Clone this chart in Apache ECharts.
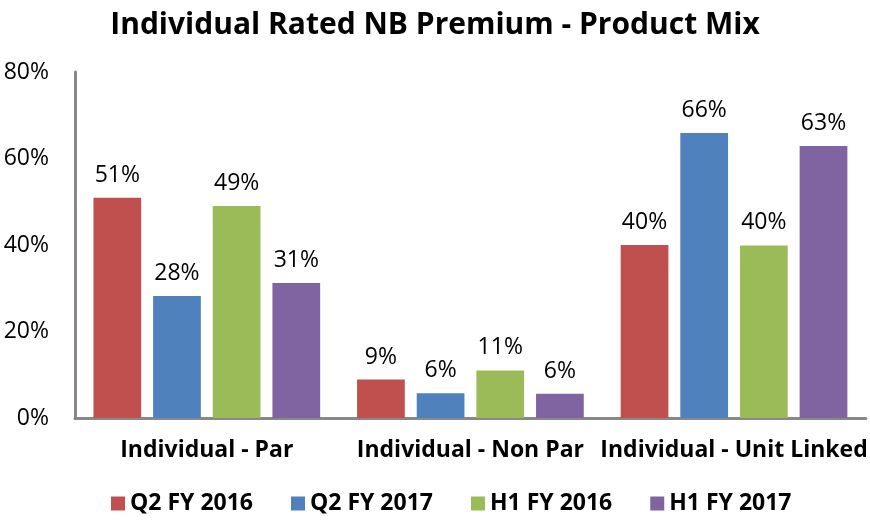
<!DOCTYPE html>
<html>
<head>
<meta charset="utf-8">
<script src="https://cdn.jsdelivr.net/npm/echarts@6/dist/echarts.min.js"></script>
<style>
  html, body { margin: 0; padding: 0; background: #fff; }
  #main { width: 870px; height: 523px; }
</style>
</head>
<body>
<div id="main"></div>
<script>
  // data (percent)
  var categories = ['Individual - Par', 'Individual - Non Par', 'Individual - Unit Linked'];
  var seriesNames = ['Q2 FY 2016', 'Q2 FY 2017', 'H1 FY 2016', 'H1 FY 2017'];
  var q2fy16 = [50.9, 8.9, 40.0];
  var q2fy17 = [28.2, 5.7, 65.9];
  var h1fy16 = [49.0, 11.0, 39.9];
  var h1fy17 = [31.2, 5.6, 62.9];
  var yTicks = [0, 20, 40, 60, 80];

  var colors = ['#c0504d', '#4f81bd', '#9bbb59', '#8064a2'];
  var font = 'Open Sans';

  var myEchart = echarts.init(document.getElementById('main'));

  function makeSeries(name, data) {
    return {
      name: name,
      type: 'bar',
      barGap: '25%',
      barCategoryGap: '14%',
      data: data,
      label: {
        show: true,
        position: 'top',
        distance: 11,
        color: '#000',
        fontFamily: font,
        fontSize: 23,
        formatter: function (p) { return Math.round(p.value) + '%'; }
      }
    };
  }

  myEchart.setOption({
    color: colors,
    animation: false,
    title: {
      text: 'Individual Rated NB Premium - Product Mix',
      left: 'center',
      top: 5,
      textStyle: {
        color: '#000',
        fontFamily: font,
        fontWeight: 'bold',
        fontSize: 30
      }
    },
    legend: {
      data: seriesNames,
      bottom: 3,
      left: 106,
      itemWidth: 14,
      itemHeight: 14,
      itemGap: 38,
      icon: 'rect',
      textStyle: {
        color: '#000',
        fontFamily: font,
        fontWeight: 'bold',
        fontSize: 23
      }
    },
    grid: {
      left: 75,
      right: 0,
      top: 72,
      bottom: 105
    },
    xAxis: {
      type: 'category',
      data: categories,
      axisTick: { show: false },
      axisLine: {
        lineStyle: { color: '#888', width: 3 }
      },
      axisLabel: {
        interval: 0,
        color: '#000',
        fontFamily: font,
        fontWeight: 'bold',
        fontSize: 23,
        margin: 21
      }
    },
    yAxis: {
      type: 'value',
      min: yTicks[0],
      max: yTicks[yTicks.length - 1],
      interval: yTicks[1] - yTicks[0],
      splitLine: { show: false },
      axisTick: { show: false },
      axisLine: {
        show: true,
        lineStyle: { color: '#888', width: 3 }
      },
      axisLabel: {
        color: '#000',
        fontFamily: font,
        fontSize: 23,
        margin: 26,
        formatter: '{value}%'
      }
    },
    series: [
      makeSeries(seriesNames[0], q2fy16),
      makeSeries(seriesNames[1], q2fy17),
      makeSeries(seriesNames[2], h1fy16),
      makeSeries(seriesNames[3], h1fy17)
    ]
  });
</script>
</body>
</html>
